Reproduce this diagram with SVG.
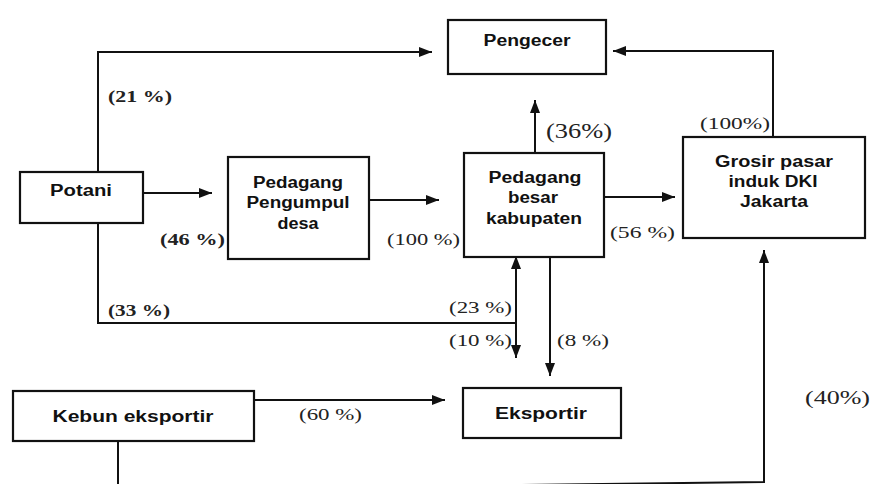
<svg xmlns="http://www.w3.org/2000/svg" width="872" height="484" viewBox="0 0 872 484">
<defs>
<style>
.box{fill:#fff;stroke:#111;stroke-width:2.2}
.lbl{font-family:"Liberation Sans",Arial,sans-serif;font-weight:bold;font-size:16px;fill:#111;text-anchor:middle}
.pct{font-family:"Liberation Serif","Times New Roman",serif;font-size:17px;fill:#222}
.b{font-weight:bold}
.conn{fill:none;stroke:#111;stroke-width:2}
</style>
<marker id="ah" markerUnits="userSpaceOnUse" markerWidth="14" markerHeight="12" refX="13" refY="6" orient="auto">
<path d="M0,1 L13,6 L0,11 Z" fill="#111"/>
</marker>
<marker id="ahs" markerUnits="userSpaceOnUse" markerWidth="14" markerHeight="12" refX="1" refY="6" orient="auto">
<path d="M13,1 L0,6 L13,11 Z" fill="#111"/>
</marker>
</defs>
<rect width="872" height="484" fill="#fff"/>
<g id="connectors">
<path class="conn" d="M98 172 V52 H432" marker-end="url(#ah)"/>
<path class="conn" d="M143 193 H212" marker-end="url(#ah)"/>
<path class="conn" d="M369 200 H439" marker-end="url(#ah)"/>
<path class="conn" d="M535 153 V100" marker-end="url(#ah)"/>
<path class="conn" d="M604 197 H675" marker-end="url(#ah)"/>
<path class="conn" d="M773 137 V51 H613" marker-end="url(#ah)"/>
<path class="conn" d="M98 223 V323 H516"/>
<path class="conn" d="M516 257 V358" marker-start="url(#ahs)" marker-end="url(#ah)"/>
<path class="conn" d="M550 257 V376" marker-end="url(#ah)"/>
<path class="conn" d="M254 400 H445" marker-end="url(#ah)"/>
<path class="conn" d="M118 441 V490 L764 482 V250" marker-end="url(#ah)"/>
</g>
<g id="labels">
<text class="pct b" x="108" y="102" textLength="64" lengthAdjust="spacingAndGlyphs">(21 %)</text>
<text class="pct b" x="160" y="245" textLength="65" lengthAdjust="spacingAndGlyphs">(46 %)</text>
<text class="pct" x="387" y="245" textLength="73" lengthAdjust="spacingAndGlyphs">(100 %)</text>
<text class="pct" x="546" y="138" style="font-size:22px" textLength="66" lengthAdjust="spacingAndGlyphs">(36%)</text>
<text class="pct" x="610" y="238" textLength="65" lengthAdjust="spacingAndGlyphs">(56 %)</text>
<text class="pct" x="700" y="129" textLength="70" lengthAdjust="spacingAndGlyphs">(100%)</text>
<text class="pct b" x="108" y="316" textLength="62" lengthAdjust="spacingAndGlyphs">(33 %)</text>
<text class="pct" x="449" y="313" textLength="63" lengthAdjust="spacingAndGlyphs">(23 %)</text>
<text class="pct" x="449" y="346" textLength="63" lengthAdjust="spacingAndGlyphs">(10 %)</text>
<text class="pct" x="557" y="346" textLength="52" lengthAdjust="spacingAndGlyphs">(8 %)</text>
<text class="pct" x="299" y="420" textLength="63" lengthAdjust="spacingAndGlyphs">(60 %)</text>
<text class="pct" x="805" y="404" style="font-size:19px" textLength="65" lengthAdjust="spacingAndGlyphs">(40%)</text>
</g>
<g id="potani">
<rect class="box" x="20" y="172" width="123" height="51"/>
<text class="lbl" x="81" y="196" textLength="62" lengthAdjust="spacingAndGlyphs">Potani</text>
</g>
<g id="pengumpul">
<rect class="box" x="228" y="157" width="141" height="102"/>
<text class="lbl" x="298" y="188" textLength="90" lengthAdjust="spacingAndGlyphs">Pedagang</text>
<text class="lbl" x="298" y="208" textLength="103" lengthAdjust="spacingAndGlyphs">Pengumpul</text>
<text class="lbl" x="298" y="229" textLength="41" lengthAdjust="spacingAndGlyphs">desa</text>
</g>
<g id="pengecer">
<rect class="box" x="448" y="20" width="158" height="54"/>
<text class="lbl" x="527" y="46" textLength="87" lengthAdjust="spacingAndGlyphs">Pengecer</text>
</g>
<g id="besar">
<rect class="box" x="464" y="153" width="140" height="104"/>
<text class="lbl" x="535" y="183" textLength="93" lengthAdjust="spacingAndGlyphs">Pedagang</text>
<text class="lbl" x="533" y="203" textLength="50" lengthAdjust="spacingAndGlyphs">besar</text>
<text class="lbl" x="534" y="224" textLength="96" lengthAdjust="spacingAndGlyphs">kabupaten</text>
</g>
<g id="grosir">
<rect class="box" x="683" y="137" width="182" height="101"/>
<text class="lbl" x="774" y="167" textLength="118" lengthAdjust="spacingAndGlyphs">Grosir pasar</text>
<text class="lbl" x="773" y="187" textLength="89" lengthAdjust="spacingAndGlyphs">induk DKI</text>
<text class="lbl" x="774" y="207" textLength="68" lengthAdjust="spacingAndGlyphs">Jakarta</text>
</g>
<g id="eksportir">
<rect class="box" x="463" y="388" width="158" height="50"/>
<text class="lbl" x="541" y="419" textLength="92" lengthAdjust="spacingAndGlyphs">Eksportir</text>
</g>
<g id="kebun">
<rect class="box" x="13" y="391" width="241" height="50"/>
<text class="lbl" x="133" y="422" textLength="161" lengthAdjust="spacingAndGlyphs">Kebun eksportir</text>
</g>
</svg>
